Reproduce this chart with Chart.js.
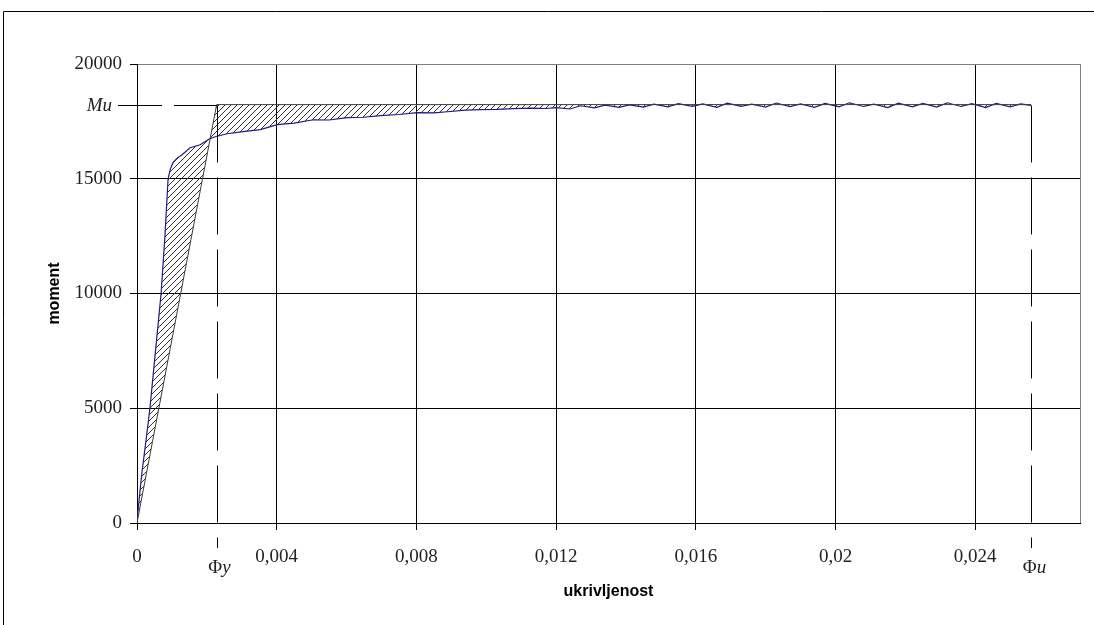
<!DOCTYPE html>
<html>
<head>
<meta charset="utf-8">
<script src="https://cdn.jsdelivr.net/npm/chart.js@4.4.1/dist/chart.umd.min.js"></script>
<style>
  html, body { margin: 0; padding: 0; background: #fff; }
  #wrap { position: relative; width: 1094px; height: 625px; }
  canvas { position: absolute; left: 0; top: 0; }
</style>
</head>
<body>
<div id="wrap"><canvas id="chart" width="1094" height="625"></canvas></div>
<script>
// moment - curvature (ukrivljenost) curve
const curvePhi = [0, 0.00003, 0.00014, 0.00026, 0.00037, 0.00053, 0.00069, 0.0008, 0.00089, 0.00095,
  0.00103, 0.00115, 0.00129, 0.00152, 0.00181, 0.00209, 0.00224, 0.00258, 0.00304, 0.00353,
  0.00402, 0.0045, 0.00505, 0.0055, 0.00602, 0.0065, 0.00697, 0.0075, 0.00803, 0.0085,
  0.00889, 0.0094, 0.00984, 0.0103, 0.01078, 0.0113, 0.0117,
  0.0120, 0.0124, 0.0127, 0.0131, 0.0134, 0.0138, 0.0141, 0.0145, 0.0148, 0.0152,
  0.0155, 0.0159, 0.0162, 0.0166, 0.0169, 0.0173, 0.0176, 0.0180, 0.0183, 0.0187,
  0.0190, 0.0194, 0.0197, 0.0201, 0.0204, 0.0208, 0.0211, 0.0215, 0.0218, 0.0222,
  0.0225, 0.0229, 0.0232, 0.0236, 0.0239, 0.0243, 0.0246, 0.0250, 0.0253, 0.0256];
const curveM = [0, 570, 2180, 3620, 5000, 7500, 10000, 12500, 15000, 15400,
  15700, 15900, 16050, 16350, 16480, 16750, 16830, 16960, 17050, 17140,
  17360, 17420, 17570, 17560, 17660, 17680, 17750, 17800, 17880, 17870,
  17920, 17990, 18010, 18020, 18055, 18080, 18060,
  18100, 18040, 18180, 18090, 18210, 18110, 18220, 18120, 18250, 18130,
  18270, 18150, 18260, 18110, 18290, 18150, 18250, 18120, 18300, 18140,
  18260, 18110, 18280, 18130, 18310, 18150, 18250, 18100, 18290, 18130,
  18280, 18120, 18310, 18150, 18270, 18100, 18280, 18130, 18260, 18200];

// idealised bilinear curve
const phiY = 0.00228;
const phiU = 0.0256;
const Mu = 18230;
const bilinPhi = [0, phiY, phiU];
const bilinM = [0, Mu, Mu];

const xTicks = [0, 0.004, 0.008, 0.012, 0.016, 0.02, 0.024];
const xLabels = ['0', '0,004', '0,008', '0,012', '0,016', '0,02', '0,024'];
const yLabels = ['0', '5000', '10000', '15000', '20000'];

const canvas = document.getElementById('chart');

const makeHatch = () => {
  const c = document.createElement('canvas');
  c.width = 6; c.height = 6;
  const g = c.getContext('2d');
  g.strokeStyle = '#333';
  g.lineWidth = 1;
  g.beginPath();
  g.moveTo(0, 6); g.lineTo(6, 0);
  g.moveTo(-1, 1); g.lineTo(1, -1);
  g.moveTo(5, 7); g.lineTo(7, 5);
  g.stroke();
  return canvas.getContext('2d').createPattern(c, 'repeat');
};
const hatch = makeHatch();

const serif = '"Liberation Serif", "Times New Roman", serif';

// Φ upright, index italic
const phiLabel = (ctx, sub, cx, cy) => {
  ctx.font = '19px ' + serif;
  const w1 = ctx.measureText('\u03A6').width;
  ctx.font = 'italic 19px ' + serif;
  const w2 = ctx.measureText(sub).width;
  const x0 = cx - (w1 + w2) / 2;
  ctx.textAlign = 'left';
  ctx.font = '19px ' + serif;
  ctx.fillText('\u03A6', x0, cy);
  ctx.font = 'italic 19px ' + serif;
  ctx.fillText(sub, x0 + w1, cy);
};

const refLines = {
  id: 'refLines',
  beforeDraw(chart) {
    const { ctx, chartArea: a } = chart;
    ctx.save();
    ctx.strokeStyle = '#000';
    ctx.lineWidth = 1;
    ctx.beginPath();
    ctx.moveTo(3.5, 625); ctx.lineTo(3.5, 11.5); ctx.lineTo(1094, 11.5);
    ctx.stroke();
    ctx.strokeStyle = '#808080';
    ctx.strokeRect(Math.round(a.left) + 0.5, Math.round(a.top) + 0.5,
      Math.round(a.right - a.left), Math.round(a.bottom - a.top));
    ctx.restore();
  },
  afterDatasetsDraw(chart) {
    const { ctx, scales: { x, y } } = chart;
    const xy = Math.round(x.getPixelForValue(phiY)) + 0.5;
    const xu = Math.round(x.getPixelForValue(phiU)) + 0.5;
    const ym = Math.round(y.getPixelForValue(Mu)) + 0.5;
    ctx.save();
    ctx.strokeStyle = '#000';
    ctx.lineWidth = 1;
    ctx.setLineDash([44, 12]);
    ctx.beginPath();
    ctx.moveTo(chart.chartArea.left - 19, ym); ctx.lineTo(xy, ym);
    ctx.stroke();
    ctx.setLineDash([57, 15]);
    ctx.beginPath();
    ctx.moveTo(xy, ym); ctx.lineTo(xy, 548);
    ctx.moveTo(xu, ym); ctx.lineTo(xu, 548);
    ctx.stroke();
    ctx.setLineDash([]);
    ctx.fillStyle = '#222';
    ctx.font = 'italic 19px ' + serif;
    ctx.textBaseline = 'middle';
    ctx.textAlign = 'right';
    ctx.fillText('Mu', chart.chartArea.left - 25, ym);
    phiLabel(ctx, 'y', xy + 2, 568);
    phiLabel(ctx, 'u', xu + 3, 568);
    ctx.restore();
  }
};

const chart = new Chart(canvas, {
  type: 'line',
  data: {
    datasets: [{
      label: 'bilinear',
      data: bilinPhi.map((p, i) => ({ x: p, y: bilinM[i] })),
      borderColor: '#3c3c3c',
      borderWidth: 1,
      pointRadius: 0,
      tension: 0,
      fill: { target: 1, above: hatch, below: hatch },
      backgroundColor: hatch,
    }, {
      label: 'M-phi',
      data: curvePhi.map((p, i) => ({ x: p, y: curveM[i] })),
      borderColor: '#1a1a8f',
      borderWidth: 1.2,
      pointRadius: 0,
      tension: 0,
      fill: false,
    }]
  },
  options: {
    responsive: false,
    animation: false,
    events: [],
    layout: { padding: { top: 64, right: 14, left: 0, bottom: 0 } },
    scales: {
      x: {
        type: 'linear',
        min: 0,
        max: 0.027,
        afterBuildTicks: scale => { scale.ticks = xTicks.map(v => ({ value: v })); },
        afterFit: scale => { scale.height = 102; },
        ticks: {
          autoSkip: false,
          maxRotation: 0,
          padding: 16,
          color: '#222',
          font: { family: serif, size: 19 },
          callback: (v, i) => xLabels[i]
        },
        grid: { color: '#000', lineWidth: 1, tickLength: 7, tickColor: '#000' },
        border: { color: '#000' },
        title: {
          display: true,
          text: 'ukrivljenost',
          color: '#000',
          font: { family: '"Liberation Sans", Arial, sans-serif', size: 16, weight: 'bold' },
          padding: { top: 0, bottom: 24 }
        }
      },
      y: {
        min: 0,
        max: 20000,
        afterBuildTicks: scale => { scale.ticks = yLabels.map(v => ({ value: Number(v) })); },
        afterFit: scale => { scale.width = 137; },
        ticks: {
          padding: 8,
          color: '#222',
          font: { family: serif, size: 19 },
          callback: (v, i) => yLabels[i]
        },
        grid: {
          color: c => (c.tick && c.tick.value === 20000 ? '#808080' : '#000'),
          lineWidth: 1,
          tickLength: 7,
          tickColor: '#000'
        },
        border: { color: '#000' },
        title: {
          display: true,
          text: 'moment',
          color: '#000',
          font: { family: '"Liberation Sans", Arial, sans-serif', size: 16, weight: 'bold' },
          padding: { top: 45, bottom: 0 }
        }
      }
    },
    plugins: {
      legend: { display: false },
      tooltip: { enabled: false }
    }
  },
  plugins: [refLines]
});
</script>
</body>
</html>
